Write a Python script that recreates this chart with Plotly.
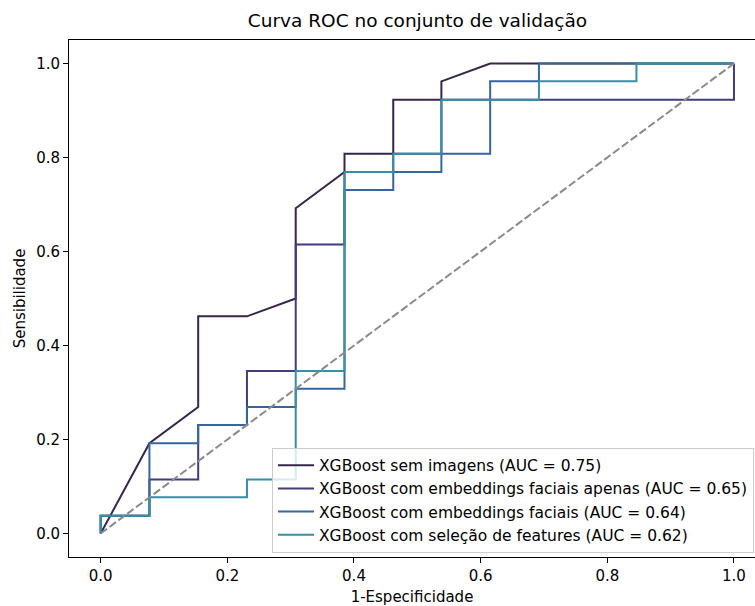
import plotly.graph_objects as go

# ---- data ----
fpr_sem = [0.0, 0.077, 0.154, 0.154, 0.231, 0.308, 0.308, 0.385, 0.385, 0.462, 0.462, 0.538, 0.538, 0.615, 1.0]
tpr_sem = [0.0, 0.192, 0.269, 0.462, 0.462, 0.5, 0.692, 0.769, 0.808, 0.808, 0.923, 0.923, 0.962, 1.0, 1.0]

fpr_apenas = [0.0, 0.0, 0.077, 0.077, 0.154, 0.154, 0.231, 0.231, 0.308, 0.308, 0.385, 0.385, 0.462, 0.462, 0.538, 0.538, 1.0, 1.0]
tpr_apenas = [0.0, 0.038, 0.038, 0.115, 0.115, 0.231, 0.231, 0.346, 0.346, 0.615, 0.615, 0.769, 0.769, 0.808, 0.808, 0.923, 0.923, 1.0]

fpr_emb = [0.0, 0.0, 0.077, 0.077, 0.154, 0.154, 0.231, 0.231, 0.308, 0.308, 0.385, 0.385, 0.462, 0.462, 0.538, 0.538, 0.615, 0.615, 0.692, 0.692, 1.0]
tpr_emb = [0.0, 0.038, 0.038, 0.192, 0.192, 0.231, 0.231, 0.269, 0.269, 0.308, 0.308, 0.731, 0.731, 0.769, 0.769, 0.808, 0.808, 0.962, 0.962, 1.0, 1.0]

fpr_sel = [0.0, 0.0, 0.077, 0.077, 0.231, 0.231, 0.308, 0.308, 0.385, 0.385, 0.462, 0.462, 0.538, 0.538, 0.692, 0.692, 0.846, 0.846, 1.0]
tpr_sel = [0.0, 0.038, 0.038, 0.077, 0.077, 0.115, 0.115, 0.346, 0.346, 0.769, 0.769, 0.808, 0.808, 0.923, 0.923, 0.962, 0.962, 1.0, 1.0]

chance_x = [0.0, 1.0]
chance_y = [0.0, 1.0]

series_names = [
    "XGBoost sem imagens (AUC = 0.75)",
    "XGBoost com embeddings faciais apenas (AUC = 0.65)",
    "XGBoost com embeddings faciais (AUC = 0.64)",
    "XGBoost com seleção de features (AUC = 0.62)",
]
series_colors = ["#35264a", "#413d7b", "#37659e", "#348fa7"]
tick_vals = [0.0, 0.2, 0.4, 0.6, 0.8, 1.0]

FONT = "DejaVu Sans"

fig = go.Figure()
for fx, fy, name, col in zip(
    [fpr_sem, fpr_apenas, fpr_emb, fpr_sel],
    [tpr_sem, tpr_apenas, tpr_emb, tpr_sel],
    series_names, series_colors,
):
    fig.add_trace(go.Scatter(x=fx, y=fy, mode="lines", name=name,
                             line=dict(color=col, width=2)))

fig.add_trace(go.Scatter(x=chance_x, y=chance_y, mode="lines", showlegend=False,
                         line=dict(color="#8a8a8a", width=2, dash="8px,3px")))

fig.update_layout(
    width=755, height=606,
    margin=dict(l=69, r=0, t=39.5, b=48.5),
    paper_bgcolor="white", plot_bgcolor="white",
    font=dict(family=FONT, size=15, color="#000000"),
    title=dict(text="Curva ROC no conjunto de validação", x=417.5 / 755, xref="container",
               xanchor="center", y=1 - 21 / 606, yanchor="middle",
               font=dict(family=FONT, size=18.5, color="#000000")),
    legend=dict(x=(272 - 69) / 686, y=(557.5 - 448) / 518, xanchor="left", yanchor="top",
                bgcolor="rgba(255,255,255,0.8)", bordercolor="#cccccc", borderwidth=1,
                font=dict(family=FONT, size=15.5, color="#000000"),
                tracegroupgap=0, itemwidth=36),
    showlegend=True,
)
fig.update_xaxes(range=[-0.05, 1.0332], tickvals=tick_vals, tickformat=".1f",
                 tickfont=dict(family=FONT, size=15),
                 showgrid=False, zeroline=False, showline=True, linecolor="#000000",
                 linewidth=1, mirror=True, ticks="outside", ticklen=5, tickcolor="#000000",
                 title=dict(text="1-Especificidade", font=dict(family=FONT, size=15), standoff=7))
fig.update_yaxes(range=[-0.05, 1.05], tickvals=tick_vals, tickformat=".1f",
                 tickfont=dict(family=FONT, size=15),
                 showgrid=False, zeroline=False, showline=True, linecolor="#000000",
                 linewidth=1, mirror=False, ticks="outside", ticklen=5, tickcolor="#000000",
                 title=dict(text="Sensibilidade", font=dict(family=FONT, size=15), standoff=6))

fig.write_html("out.html")
